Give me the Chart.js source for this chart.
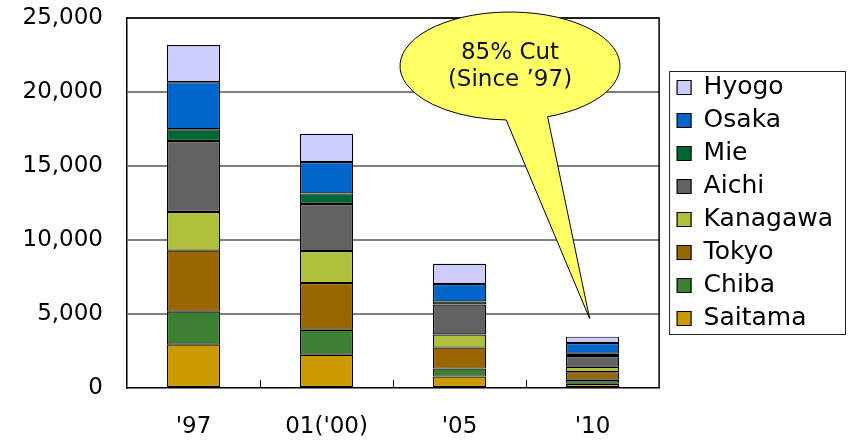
<!DOCTYPE html>
<html>
<head>
<meta charset="utf-8">
<script src="https://cdn.jsdelivr.net/npm/chart.js@4.4.1/dist/chart.umd.min.js"></script>
<style>
  html, body { margin: 0; padding: 0; background: #fff; }
  #wrap { width: 848px; height: 441px; }
</style>
</head>
<body>
<div id="wrap"><canvas id="chart"></canvas></div>
<script>
const years = ["'97", "01('00)", "'05", "'10"];
const saitama = [2930, 2250, 770, 290];
const chiba = [2230, 1690, 540, 270];
const tokyo = [4120, 3150, 1420, 500];
const kanagawa = [2610, 2160, 880, 380];
const aichi = [4800, 3180, 2030, 720];
const mie = [790, 720, 200, 160];
const osaka = [3180, 2120, 1190, 720];
const hyogo = [2520, 1910, 1370, 430];
const yTicks = [0, 5000, 10000, 15000, 20000, 25000];
const calloutLines = ["85% Cut", "(Since \u201997)"];
const calloutValue = 4700; // where the tail points, above the '10 bar

const FONT = "'DejaVu Sans', Verdana, sans-serif";

function makeDataset(label, data, color) {
  return {
    label: label,
    data: data,
    backgroundColor: color,
    borderColor: "#000",
    borderWidth: 1.2,
    borderSkipped: false,
    barPercentage: 0.4,
    categoryPercentage: 1
  };
}

// frame, inner tick marks, legend box and the speech bubble
const extras = {
  id: "extras",
  afterLayout(chart) {
    // small gap between plot frame and legend
    chart.legend.left += 10;
    chart.legend.right += 10;
  },
  afterDraw(chart) {
    const ctx = chart.ctx;
    const area = chart.chartArea;
    const xs = chart.scales.x;
    const ys = chart.scales.y;
    ctx.save();

    ctx.strokeStyle = "#000";
    ctx.lineWidth = 1.5;
    ctx.beginPath();
    ctx.moveTo(area.left, area.top);
    ctx.lineTo(area.right, area.top);
    ctx.lineTo(area.right, area.bottom);
    ctx.stroke();

    ctx.lineWidth = 1;
    ctx.beginPath();
    for (let i = 0; i < years.length - 1; i++) {
      const px = Math.round((xs.getPixelForValue(i) + xs.getPixelForValue(i + 1)) / 2) + 0.5;
      ctx.moveTo(px, area.bottom);
      ctx.lineTo(px, area.bottom - 8);
    }
    ctx.stroke();

    const lg = chart.legend;
    const boxes = lg.legendHitBoxes;
    const last = boxes[boxes.length - 1];
    const top = boxes[0].top - 4;
    const bottom = last.top + last.height + 3;
    ctx.strokeStyle = "#222";
    ctx.lineWidth = 1;
    ctx.strokeRect(lg.left + 0.5, top + 0.5, chart.width - 3 - lg.left, bottom - top);

    // callout
    const cx = 510, cy = 66, rx = 110, ry = 54;
    const tipX = xs.getPixelForValue(3) - 3;
    const tipY = ys.getPixelForValue(calloutValue);
    const a1 = 70 * Math.PI / 180;
    const a2 = 92 * Math.PI / 180;
    ctx.beginPath();
    ctx.moveTo(tipX, tipY);
    ctx.lineTo(cx + rx * Math.cos(a1), cy + ry * Math.sin(a1));
    ctx.ellipse(cx, cy, rx, ry, 0, a1, a2, true);
    ctx.closePath();
    ctx.fillStyle = "#FFFF66";
    ctx.fill();
    ctx.strokeStyle = "#000";
    ctx.lineWidth = 1;
    ctx.stroke();

    ctx.fillStyle = "#111";
    ctx.font = "23px " + FONT;
    ctx.textAlign = "center";
    ctx.textBaseline = "middle";
    ctx.fillText(calloutLines[0], cx, 53);
    ctx.fillText(calloutLines[1], cx, 80);
    ctx.restore();
  }
};

const ctx = document.getElementById("chart").getContext("2d");
new Chart(ctx, {
  type: "bar",
  data: {
    labels: years,
    datasets: [
      makeDataset("Saitama", saitama, "#CC9900"),
      makeDataset("Chiba", chiba, "#3D8033"),
      makeDataset("Tokyo", tokyo, "#996600"),
      makeDataset("Kanagawa", kanagawa, "#B0BF3C"),
      makeDataset("Aichi", aichi, "#626262"),
      makeDataset("Mie", mie, "#006633"),
      makeDataset("Osaka", osaka, "#0066CC"),
      makeDataset("Hyogo", hyogo, "#CCCCFF")
    ]
  },
  options: {
    responsive: true,
    maintainAspectRatio: false,
    animation: false,
    layout: { padding: { top: 18, left: 10, right: 15, bottom: 0 } },
    scales: {
      x: {
        stacked: true,
        grid: { display: false, drawTicks: false },
        border: { color: "#000", width: 1.5 },
        ticks: { color: "#000", font: { family: FONT, size: 23 }, padding: 25 },
        afterFit: (scale) => { scale.height = 53; }
      },
      y: {
        stacked: true,
        min: yTicks[0],
        max: yTicks[yTicks.length - 1],
        afterBuildTicks: (scale) => { scale.ticks = yTicks.map(v => ({ value: v })); },
        grid: {
          color: (c) => (c.tick && c.tick.value === 0) ? "rgba(0,0,0,0)" : "#808080",
          lineWidth: 2,
          drawTicks: false
        },
        border: { color: "#000", width: 1.5 },
        ticks: { color: "#000", font: { family: FONT, size: 23 }, padding: 24 },
        afterFit: (scale) => {
          scale.width = 117;
          scale.paddingTop = 0;
          scale.paddingBottom = 0;
        }
      }
    },
    plugins: {
      legend: {
        position: "right",
        align: "center",
        fullSize: false,
        reverse: true,
        labels: {
          color: "#000",
          font: { family: FONT, size: 25 },
          boxWidth: 14,
          boxHeight: 14,
          padding: 8
        }
      },
      tooltip: { enabled: false }
    }
  },
  plugins: [extras]
});
</script>
</body>
</html>
